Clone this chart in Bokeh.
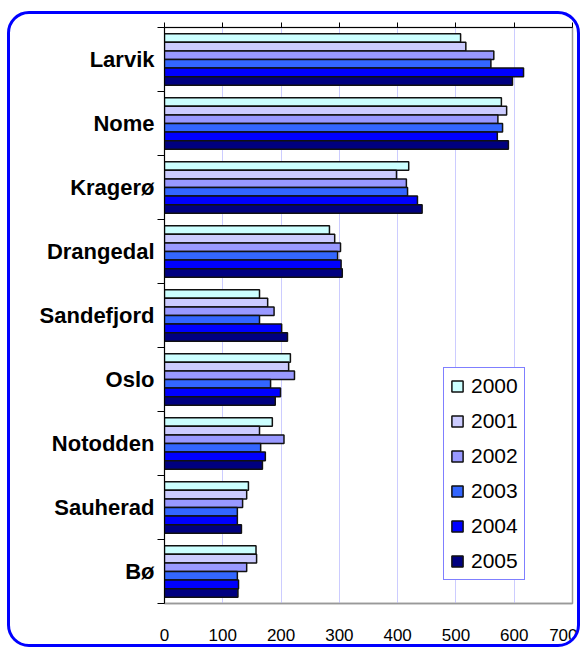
from bokeh.plotting import figure
from bokeh.models import (ColumnDataSource, Range1d, FixedTicker, LinearAxis,
                          Legend, LegendItem, CustomJSTickFormatter)
from bokeh.transform import dodge
from bokeh.embed import file_html
from bokeh.resources import INLINE

categories = ["Larvik", "Nome", "Kragerø", "Drangedal", "Sandefjord",
              "Oslo", "Notodden", "Sauherad", "Bø"]
years = ["2000", "2001", "2002", "2003", "2004", "2005"]
v2000 = [508, 578, 419, 283, 163, 216, 185, 144, 157]
v2001 = [517, 587, 398, 292, 177, 213, 163, 141, 158]
v2002 = [565, 572, 415, 302, 188, 223, 205, 134, 141]
v2003 = [560, 580, 417, 297, 163, 182, 165, 125, 125]
v2004 = [616, 571, 434, 303, 201, 199, 173, 125, 127]
v2005 = [597, 590, 442, 305, 211, 190, 168, 132, 126]
x_ticks = [0, 100, 200, 300, 400, 500, 600, 700]
colors = ["#CCFFFF", "#CCCCFF", "#9999FF", "#3366FF", "#0000FF", "#000080"]

n = len(categories)
ypos = [n - 1 - i for i in range(n)]
src = ColumnDataSource(dict(y=ypos, y2000=v2000, y2001=v2001, y2002=v2002,
                            y2003=v2003, y2004=v2004, y2005=v2005))

FONT = "Liberation Sans"

p = figure(width=573, height=636, output_backend="svg", toolbar_location=None,
           x_range=Range1d(0, 700), y_range=Range1d(-0.5, n - 0.5),
           min_border_left=154, min_border_right=11, min_border_top=13,
           min_border_bottom=47, x_axis_location="below")
p.styles = {"border": "3px solid #0000FF", "border-radius": "22px",
            "overflow": "hidden", "margin-left": "7px", "margin-top": "11px"}
p.border_fill_color = None
p.background_fill_color = "white"
p.outline_line_color = "#999999"
p.outline_line_width = 1.5

bar_h = 0.134
renderers = []
for j, yr in enumerate(years):
    off = bar_h * 3 - bar_h * (j + 0.5)
    r = p.hbar(y=dodge("y", off, range=p.y_range), right="y" + yr, left=0,
               height=bar_h, source=src, fill_color=colors[j],
               line_color="#111111", line_width=1.5)
    renderers.append(r)

# bottom axis: labels only
xb = p.xaxis[0]
xb.ticker = FixedTicker(ticks=x_ticks)
xb.major_tick_out = 0
xb.major_tick_in = 0
xb.minor_tick_out = 0
xb.minor_tick_in = 0
xb.axis_line_color = "#999999"
xb.axis_line_width = 1.5
xb.major_label_standoff = 25
xb.major_label_text_font = FONT
xb.major_label_text_font_size = "17px"
xb.major_label_text_color = "black"

# top axis: ticks only
xt = LinearAxis(ticker=FixedTicker(ticks=x_ticks),
                formatter=CustomJSTickFormatter(code="return ''"))
xt.major_tick_out = 5
xt.major_tick_in = 0
xt.minor_tick_out = 0
xt.minor_tick_in = 0
xt.major_tick_line_color = "black"
xt.axis_line_color = "black"
xt.major_label_standoff = 0
xt.major_label_text_font_size = "1px"
p.add_layout(xt, "above")

# left axis: labels at centres, ticks at boundaries
ya = p.yaxis[0]
ya.ticker = FixedTicker(ticks=ypos, minor_ticks=[k - 0.5 for k in range(n + 1)])
ya.major_label_overrides = {ypos[i]: categories[i] for i in range(n)}
ya.major_tick_out = 0
ya.major_tick_in = 0
ya.minor_tick_out = 7
ya.minor_tick_in = 0
ya.minor_tick_line_color = "black"
ya.axis_line_color = "black"
ya.major_label_standoff = 3
ya.major_label_text_font = FONT
ya.major_label_text_font_style = "bold"
ya.major_label_text_font_size = "22px"
ya.major_label_text_color = "black"

p.xgrid.grid_line_color = "#CCCCFF"
p.xgrid.ticker = FixedTicker(ticks=x_ticks)
p.ygrid.grid_line_color = None

legend = Legend(items=[LegendItem(label=yr, renderers=[renderers[j]]) for j, yr in enumerate(years)],
                location=(279, 23))
legend.border_line_color = "#0000FF"
legend.border_line_width = 1
legend.background_fill_color = "white"
legend.background_fill_alpha = 1
legend.label_text_font = FONT
legend.label_text_font_size = "21px"
legend.label_text_color = "black"
legend.glyph_width = 14
legend.glyph_height = 14
legend.label_standoff = 7
legend.padding = 6
legend.margin = 0
legend.spacing = 11
p.add_layout(legend)

open("out.html", "w").write(file_html(p, INLINE))
